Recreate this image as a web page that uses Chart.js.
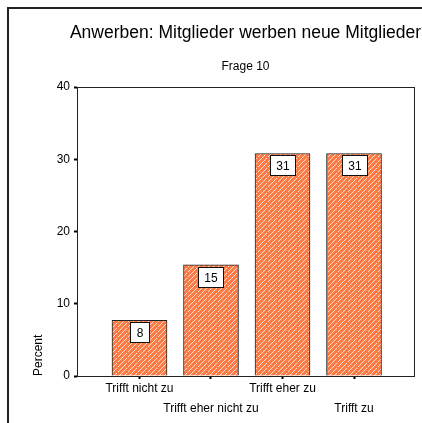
<!DOCTYPE html>
<html>
<head>
<meta charset="utf-8">
<script src="https://cdn.jsdelivr.net/npm/chart.js@4/dist/chart.umd.min.js"></script>
<style>
  html, body { margin: 0; padding: 0; background: #fff; }
  #wrap { width: 422px; height: 423px; position: relative; }
</style>
</head>
<body>
<div id="wrap"><canvas id="chart"></canvas></div>
<script>
const chartTitle = 'Anwerben: Mitglieder werben neue Mitglieder';
const chartSubtitle = 'Frage 10';
const categories = ['Trifft nicht zu', 'Trifft eher nicht zu', 'Trifft eher zu', 'Trifft zu'];
const percents = [7.7, 15.4, 30.8, 30.8];
const yTicks = [0, 10, 20, 30, 40];
const yAxisTitle = 'Percent';

const FONT = '"Liberation Sans", Arial, sans-serif';

// orange with light dashed diagonal hatch
function hatch() {
  const c = document.createElement('canvas');
  c.width = 10; c.height = 10;
  const g = c.getContext('2d');
  g.fillStyle = '#ff7b45';
  g.fillRect(0, 0, 10, 10);
  g.fillStyle = '#ffe0d0';
  for (let x = 0; x < 10; x++) {
    for (let y = 0; y < 10; y++) {
      if ((x + y) % 5 === 4 && x % 10 !== 7) g.fillRect(x, y, 1, 1);
    }
  }
  return g.createPattern(c, 'repeat');
}

const decor = {
  id: 'decor',
  beforeDraw(chart) {
    const ctx = chart.ctx;
    ctx.save();
    ctx.fillStyle = '#fff';
    ctx.fillRect(0, 0, chart.width, chart.height);
    ctx.restore();
  },
  afterDatasetsDraw(chart) {
    const { ctx, chartArea: a } = chart;
    ctx.save();
    ctx.strokeStyle = '#222';
    ctx.lineWidth = 1;
    ctx.strokeRect(a.left + 0.5, a.top + 0.5, a.right - a.left, a.bottom - a.top);

    // value boxes
    ctx.font = '12px ' + FONT;
    ctx.textAlign = 'center';
    ctx.textBaseline = 'middle';
    chart.getDatasetMeta(0).data.forEach((bar, i) => {
      const txt = String(Math.round(percents[i]));
      const w = Math.round(ctx.measureText(txt).width) + 12;
      const h = 20;
      const x = Math.round(bar.x - w / 2) + 0.5;
      const y = Math.round(bar.y) + 2.5;
      ctx.fillStyle = '#fff';
      ctx.fillRect(x, y, w, h);
      ctx.strokeStyle = '#111';
      ctx.strokeRect(x, y, w, h);
      ctx.fillStyle = '#000';
      ctx.fillText(txt, x + w / 2, y + h / 2 + 1);
    });
    ctx.restore();
  },
  afterDraw(chart) {
    const { ctx, chartArea: a } = chart;
    const cx = (a.left + a.right) / 2;
    ctx.save();
    ctx.fillStyle = '#000';
    ctx.textAlign = 'center';
    ctx.textBaseline = 'middle';
    ctx.font = '17.5px ' + FONT;
    ctx.fillText(chartTitle, cx, 33);
    ctx.font = '12px ' + FONT;
    ctx.fillText(chartSubtitle, cx, 67);
    // outer frame
    ctx.strokeStyle = '#222';
    ctx.lineWidth = 2;
    ctx.beginPath();
    ctx.moveTo(8, chart.height);
    ctx.lineTo(8, 8);
    ctx.lineTo(chart.width, 8);
    ctx.stroke();
    ctx.restore();
  }
};

new Chart(document.getElementById('chart'), {
  type: 'bar',
  data: {
    datasets: [{
      data: percents.map((v, i) => ({ x: i, y: v })),
      backgroundColor: hatch(),
      borderColor: '#222',
      borderWidth: 1,
      barThickness: 55
    }]
  },
  options: {
    responsive: true,
    maintainAspectRatio: false,
    animation: false,
    layout: { padding: { top: 87, right: 8, left: 0, bottom: 0 } },
    plugins: {
      legend: { display: false },
      tooltip: { enabled: false }
    },
    scales: {
      x: {
        type: 'linear',
        offset: false,
        min: -0.874,
        max: 3.839,
        afterBuildTicks: s => { s.ticks = categories.map((c, i) => ({ value: i })); },
        afterFit: s => { s.height = 47; },
        grid: { offset: false, drawOnChartArea: false, drawTicks: true, tickLength: 3, tickWidth: 2, color: '#000' },
        border: { display: true, color: '#222' },
        ticks: {
          autoSkip: false,
          maxRotation: 0,
          padding: -1,
          color: '#000',
          font: { family: FONT, size: 12, lineHeight: 1.72 },
          callback: v => (v % 2 === 0 ? categories[v] : ['', categories[v]])
        }
      },
      y: {
        min: 0,
        max: 40,
        afterBuildTicks: s => { s.ticks = yTicks.map(v => ({ value: v })); },
        afterFit: s => { s.width = 77; },
        grid: { drawOnChartArea: false, drawTicks: true, tickLength: 3, tickWidth: 2, color: '#000' },
        border: { display: true, color: '#222' },
        ticks: {
          padding: 4,
          color: '#000',
          font: { family: FONT, size: 12 }
        },
        title: {
          display: true,
          text: yAxisTitle,
          align: 'start',
          color: '#000',
          font: { family: FONT, size: 12 },
          padding: { top: 31, bottom: 0 }
        }
      }
    }
  },
  plugins: [decor]
});
</script>
</body>
</html>
